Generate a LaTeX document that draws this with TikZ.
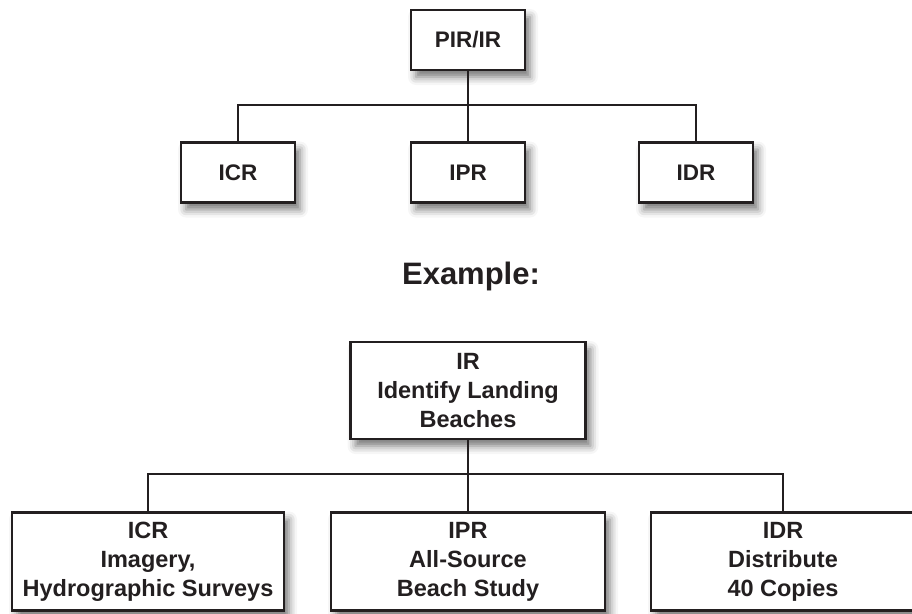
\documentclass[tikz,border=0pt]{standalone}
\usepackage{fontspec}
\setmainfont{Liberation Sans}
\usetikzlibrary{shadows.blur}
\definecolor{ink}{HTML}{231F20}
\begin{document}
\begin{tikzpicture}[x=1pt,y=-1pt,
  box/.style={draw=ink, line width=2.2pt, fill=white, inner sep=0pt, align=center,
    text=ink, font=\bfseries,
    blur shadow={shadow xshift=5pt, shadow yshift=-7pt, shadow blur radius=8pt, shadow opacity=55}},
  smallbox/.style={box, minimum width=114pt, minimum height=60pt, font=\bfseries\fontsize{22.5}{26}\selectfont},
  bigbox/.style={box, minimum height=98pt, font=\bfseries\fontsize{23.5}{29}\selectfont},
  conn/.style={draw=ink, line width=2.4pt}]
\useasboundingbox (0,0) rectangle (912,613);
% top chart
\node[smallbox] (pir) at (468,40) {PIR/IR};
\node[smallbox] (icr) at (238,172.5) {ICR};
\node[smallbox] (ipr) at (468,172.5) {IPR};
\node[smallbox] (idr) at (696,172.5) {IDR};
\coordinate (j1) at (468,105);
\draw[conn] (pir.south) -- (ipr.north);
\draw[conn] (icr.north) -- (icr.north |- j1) -- (idr.north |- j1) -- (idr.north);
% caption
\node[anchor=base, text=ink, font=\bfseries\fontsize{31}{36}\selectfont, inner sep=0pt] (ex) at (471,284) {Example:};
% bottom chart
\node[bigbox, minimum width=235pt, minimum height=97pt] (ir) at (468,390.5) {IR\\Identify Landing\\Beaches};
\node[bigbox, minimum width=272pt] (icr2) at (148,561.5) {ICR\\Imagery,\\Hydrographic Surveys};
\node[bigbox, minimum width=274pt] (ipr2) at (468,561.5) {IPR\\All-Source\\Beach Study};
\node[bigbox, minimum width=264pt] (idr2) at (783,561.5) {IDR\\Distribute\\40 Copies};
\coordinate (j2) at (468,474);
\draw[conn] (ir.south) -- (ipr2.north);
\draw[conn] (icr2.north) -- (icr2.north |- j2) -- (idr2.north |- j2) -- (idr2.north);
\end{tikzpicture}
\end{document}
